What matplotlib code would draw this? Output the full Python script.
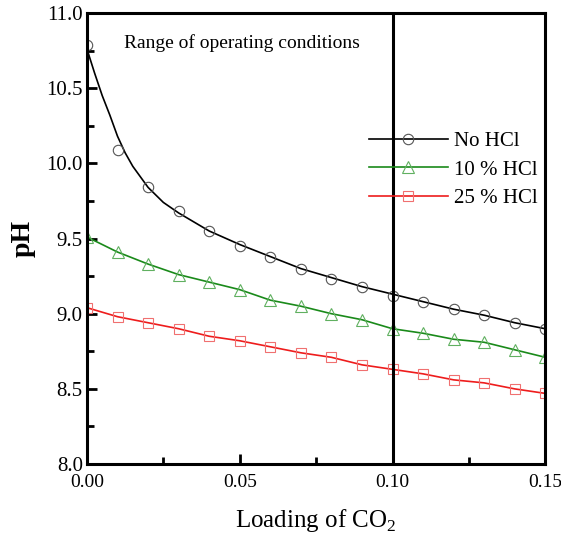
import numpy as np
import matplotlib.pyplot as plt
from matplotlib.ticker import MultipleLocator

plt.rcParams['font.family'] = ['Liberation Serif', 'DejaVu Serif']
plt.rcParams['mathtext.fontset'] = 'custom'
plt.rcParams['mathtext.rm'] = 'Liberation Serif'

# Измеренные точки (маркеры)
loading = [0.00, 0.01, 0.02, 0.03, 0.04, 0.05, 0.06, 0.07,
           0.08, 0.09, 0.10, 0.11, 0.12, 0.13, 0.14, 0.15]
ph_no_hcl = [10.79, 10.09, 9.84, 9.68, 9.55, 9.45, 9.38, 9.30,
             9.23, 9.18, 9.12, 9.08, 9.03, 8.99, 8.94, 8.90]
ph_10_hcl = [9.51, 9.41, 9.33, 9.26, 9.21, 9.16, 9.09, 9.05,
             9.00, 8.96, 8.90, 8.87, 8.83, 8.81, 8.76, 8.71]
ph_25_hcl = [9.04, 8.98, 8.94, 8.90, 8.85, 8.82, 8.78, 8.74,
             8.71, 8.66, 8.63, 8.60, 8.56, 8.54, 8.50, 8.47]

# Расчётная кривая без HCl (гуще у начала)
curve_x = [0.0, 0.0025, 0.005, 0.0075, 0.01, 0.0125, 0.015, 0.02, 0.025,
           0.03, 0.04, 0.05, 0.06, 0.07, 0.08, 0.09, 0.10, 0.11, 0.12,
           0.13, 0.14, 0.15]
curve_no_hcl = [10.76, 10.60, 10.45, 10.32, 10.18, 10.07, 9.98, 9.84, 9.74,
                9.67, 9.55, 9.46, 9.38, 9.30, 9.24, 9.18, 9.13, 9.08, 9.03,
                8.99, 8.94, 8.90]

fig, ax = plt.subplots(figsize=(5.61, 5.39), dpi=100)
fig.subplots_adjust(left=0.155, right=0.972, top=0.976, bottom=0.139)

ax.plot(curve_x, curve_no_hcl, color='black', lw=1.2)
ax.plot(loading, ph_no_hcl, ls='none', marker='o', ms=7.5, mfc='none',
        mec='#555555', mew=0.8)
ax.plot(loading, ph_10_hcl, color='#1a8a1a', lw=1.2, marker='^', ms=8,
        mfc='none', mec='#60b060', mew=0.8)
ax.plot(loading, ph_25_hcl, color='#ee1c1c', lw=1.2, marker='s', ms=7.5,
        mfc='none', mec='#f07070', mew=0.8)

# легенда
ax.plot([], [], color='black', lw=1.2, marker='o', ms=7.5, mfc='none',
        mec='#555555', mew=0.8, label='No HCl')
ax.plot([], [], color='#1a8a1a', lw=1.2, marker='^', ms=8, mfc='none',
        mec='#60b060', mew=0.8, label='10 % HCl')
ax.plot([], [], color='#ee1c1c', lw=1.2, marker='s', ms=7.5, mfc='none',
        mec='#f07070', mew=0.8, label='25 % HCl')
handles, labels = ax.get_legend_handles_labels()
ax.legend(handles, labels, loc='upper left', bbox_to_anchor=(0.597, 0.755),
          frameon=False, fontsize=15, handlelength=3.8, handletextpad=0.3,
          labelspacing=0.42, borderaxespad=0)

ax.axvline(0.10, color='black', lw=2.2)
ax.text(0.012, 10.86, 'Range of operating conditions', fontsize=14,
        va='top', ha='left')

ax.set_xlim(0, 0.15)
ax.set_ylim(8.0, 11.0)
ax.xaxis.set_major_locator(MultipleLocator(0.05))
ax.xaxis.set_minor_locator(MultipleLocator(0.025))
ax.yaxis.set_major_locator(MultipleLocator(0.5))
ax.yaxis.set_minor_locator(MultipleLocator(0.25))
ax.xaxis.set_major_formatter(plt.FormatStrFormatter('%.2f'))
ax.yaxis.set_major_formatter(plt.FormatStrFormatter('%.1f'))
ax.tick_params(which='both', direction='in', width=2, top=False, right=False)
ax.tick_params(which='major', length=7)
ax.tick_params(axis='x', which='major', pad=7, labelsize=14)
ax.tick_params(axis='y', which='major', pad=3, labelsize=15)
ax.tick_params(which='minor', length=5)
for s in ax.spines.values():
    s.set_linewidth(2.2)

ax.set_xlabel('Loading of CO$_2$', fontsize=18, labelpad=12)
ax.set_ylabel('pH', fontsize=20, fontweight='bold', labelpad=8)

plt.savefig('out.png', dpi=100)
